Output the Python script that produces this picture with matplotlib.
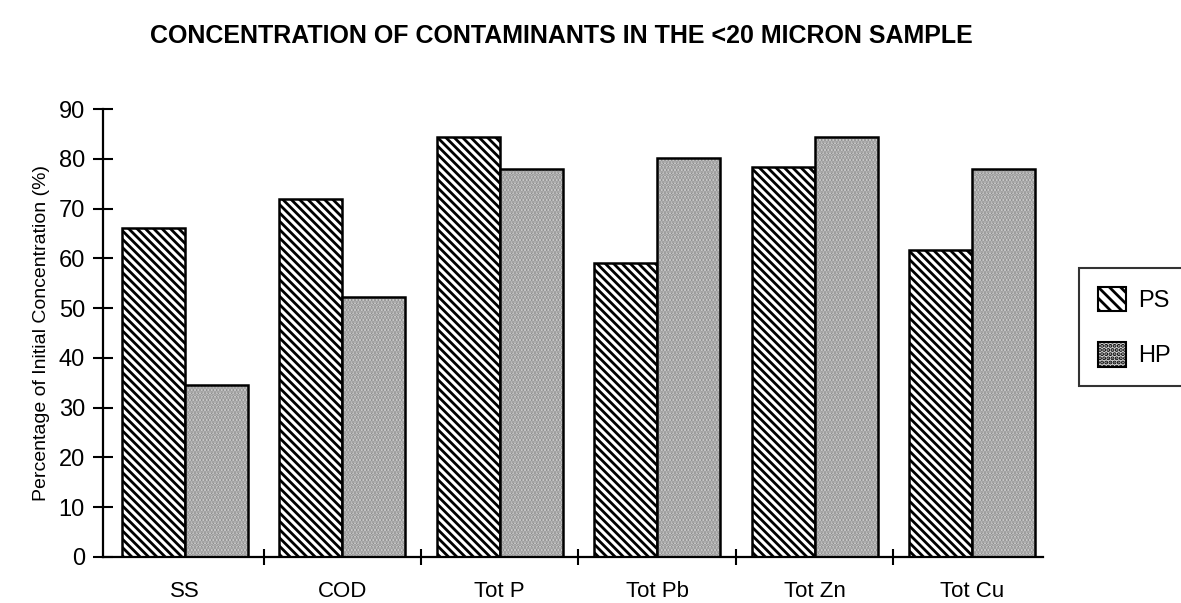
import matplotlib.pyplot as plt
import matplotlib.patches as mpatches
import numpy as np

plt.rcParams['font.family'] = ['Liberation Sans', 'DejaVu Sans']
plt.rcParams['hatch.linewidth'] = 2.0

categories = ['SS', 'COD', 'Tot P', 'Tot Pb', 'Tot Zn', 'Tot Cu']
ps_vals = [66.1, 72.0, 84.5, 59.0, 78.3, 61.6]
hp_vals = [34.5, 52.2, 77.9, 80.1, 84.5, 77.9]

x = np.arange(len(categories))
w = 0.4

fig = plt.figure(figsize=(11.81, 6.03), dpi=100)
ax = fig.add_axes([0.0872, 0.0763, 0.7958, 0.7427])

# PS: diagonal hatch
ax.bar(x - w / 2, ps_vals, w, facecolor='white', edgecolor='black',
       hatch='\\\\\\\\', linewidth=1.8, label='PS')
# HP: grey stipple, then a black outline on top
ax.bar(x + w / 2, hp_vals, w, facecolor='#d6d6d6', edgecolor='#8c8c8c',
       hatch='.....', linewidth=0)
ax.bar(x + w / 2, hp_vals, w, facecolor='none', edgecolor='black',
       linewidth=1.8)

ax.set_xlim(-0.52, 5.45)
ax.set_ylim(0, 90)
ax.set_yticks(range(0, 91, 10))
ax.set_xticks(x)
ax.set_xticklabels(categories, fontsize=16)
ax.set_xticks(x[:-1] + 0.5, minor=True)
ax.tick_params(axis='x', which='major', length=0, pad=17)
ax.tick_params(axis='x', which='minor', length=12, width=1.5, direction='inout')
ax.tick_params(axis='y', length=14, width=1.5, direction='inout', labelsize=17, pad=6)

for s in ['top', 'right']:
    ax.spines[s].set_visible(False)
for s in ['left', 'bottom']:
    ax.spines[s].set_linewidth(1.6)

ax.set_ylabel('Percentage of Initial Concentration (%)', fontsize=14, labelpad=6)

fig.text(0.475, 0.94, 'CONCENTRATION OF CONTAMINANTS IN THE <20 MICRON SAMPLE',
         ha='center', va='center', fontsize=18, fontweight='bold')

h1 = mpatches.Patch(facecolor='white', edgecolor='black', hatch='\\\\\\', linewidth=1.5)
h2 = mpatches.Patch(facecolor='#d6d6d6', edgecolor='black', hatch='....', linewidth=1.5)
leg = fig.legend([h1, h2], ['PS', 'HP'], loc='center left',
                 bbox_to_anchor=(1079 / 1181, 1 - 327 / 603), fontsize=17,
                 frameon=True, fancybox=False, handlelength=1.2, handleheight=1.2,
                 labelspacing=1.3, borderpad=0.8, handletextpad=0.5,
                 borderaxespad=0)
leg.get_frame().set_edgecolor('black')
leg.get_frame().set_linewidth(1.5)

fig.savefig('out.png', dpi=100)
